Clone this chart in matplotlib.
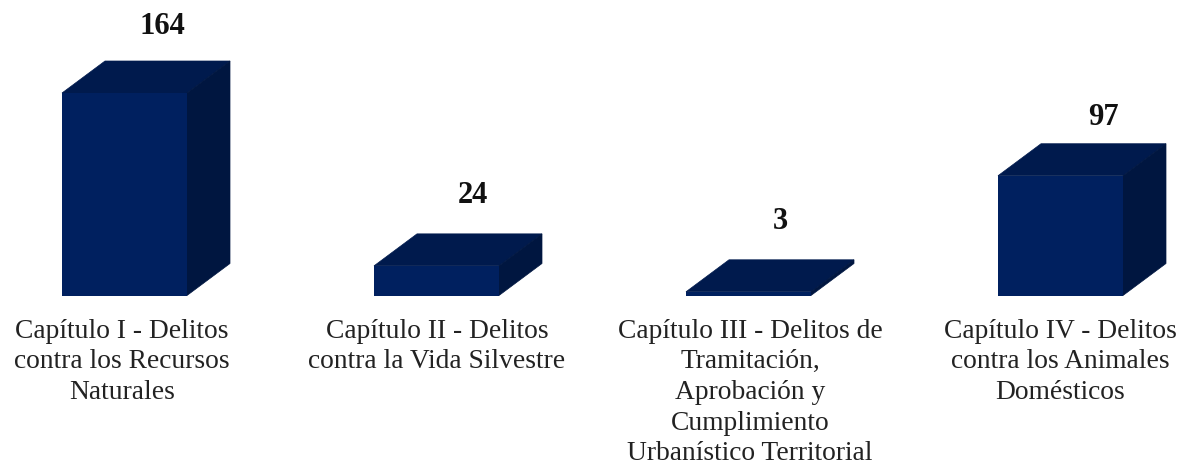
import matplotlib
matplotlib.use("Agg")
import matplotlib.pyplot as plt
from matplotlib.patches import Polygon

categories = ["Capítulo I - Delitos\ncontra los Recursos\nNaturales",
              "Capítulo II - Delitos\ncontra la Vida Silvestre",
              "Capítulo III - Delitos de\nTramitación,\nAprobación y\nCumplimiento\nUrbanístico Territorial",
              "Capítulo IV - Delitos\ncontra los Animales\nDomésticos"]
values = [164, 24, 3, 97]

plt.rcParams['font.family'] = ['Liberation Serif', 'DejaVu Serif']
front = '#00205f'
top = '#001a4d'
side = '#001640'

fig = plt.figure(figsize=(11.77, 4.68), dpi=100)
ax = fig.add_axes([0, 0, 1, 1])
ax.set_xlim(0, 1177)
y0 = 295.5          # baseline, pixels from top
scale = (295.5 - 93) / 164
ax.set_ylim((y0 - 468) / scale, y0 / scale)
ax.axis('off')

lefts = [62, 374, 686, 998]
width = 125
dx = 43
dy = 32 / scale
# label placement differs per bar in the original
num_dx = [100, 99, 94, 105]
num_up = [34, 38, 38, 26]
cat_dx = [60, 63, 64, 62]

for i, (left, v, cat) in enumerate(zip(lefts, values, categories)):
    ax.add_patch(Polygon([(left, v), (left + width, v), (left + width + dx, v + dy), (left + dx, v + dy)],
                         fc=top, ec=top, lw=0.5))
    ax.add_patch(Polygon([(left + width, 0), (left + width + dx, dy), (left + width + dx, v + dy), (left + width, v)],
                         fc=side, ec=side, lw=0.5))
    ax.add_patch(Polygon([(left, 0), (left + width, 0), (left + width, v), (left, v)], fc=front, ec='none'))
    ax.text(left + num_dx[i], v + dy + num_up[i] / scale, str(v), ha='center', va='center',
            fontsize=22, fontweight='bold', color='#111111')
    ax.text(left + cat_dx[i], -23 / scale, cat, ha='center', va='top', fontsize=19.8,
            color='#222222', linespacing=1.3)

fig.savefig("out.png", dpi=100)
